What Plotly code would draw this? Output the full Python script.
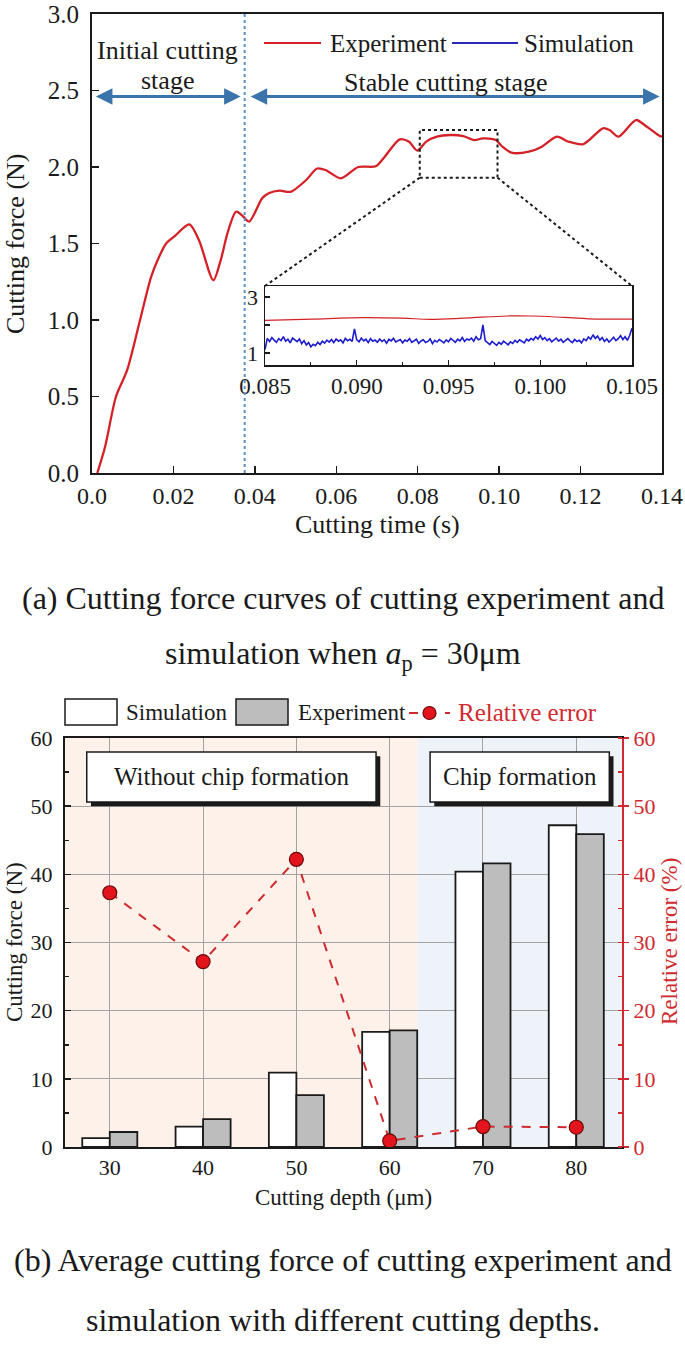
import numpy as np
import plotly.graph_objects as go

W, H = 685, 1354
FONT = "Liberation Serif"
INK = "#1a1a1a"
RED = "#d42127"
BLUE = "#1c1ccf"
ARROW = "#3b74ab"
ERR = "#cf2a2f"

# ---------------- (a) data ----------------
exp_time = [0.0013, 0.0032, 0.0059, 0.0086, 0.0118, 0.0145, 0.0161, 0.0182, 0.0204, 0.0239,
            0.0263, 0.0298, 0.0316, 0.0333, 0.0354, 0.0370, 0.0386, 0.0418, 0.0434, 0.0461,
            0.0488, 0.0526, 0.0553, 0.0574, 0.0611, 0.0654, 0.0697, 0.0719, 0.0756, 0.0778,
            0.0799, 0.0821, 0.0847, 0.0880, 0.0912, 0.0939, 0.0960, 0.0992, 0.1008, 0.1030,
            0.1073, 0.1105, 0.1142, 0.1170, 0.1207, 0.1255, 0.1271, 0.1293, 0.1336, 0.1357,
            0.1395, 0.1400]
exp_force = [0.00, 0.17, 0.50, 0.67, 1.00, 1.28, 1.39, 1.50, 1.55, 1.625,
             1.52, 1.26, 1.39, 1.57, 1.708, 1.68, 1.643, 1.795, 1.828, 1.845,
             1.838, 1.915, 1.99, 1.98, 1.926, 2.00, 2.005, 2.067, 2.181, 2.166,
             2.107, 2.166, 2.198, 2.209, 2.202, 2.176, 2.187, 2.176, 2.133, 2.094,
             2.100, 2.133, 2.198, 2.166, 2.150, 2.253, 2.242, 2.198, 2.307, 2.275,
             2.202, 2.200]

inset_exp_time = [0.085, 0.0876, 0.0904, 0.0925, 0.094, 0.0958, 0.0982, 0.0995, 0.1013, 0.1031, 0.105]
inset_exp_force = [2.16, 2.21, 2.26, 2.24, 2.20, 2.24, 2.32, 2.32, 2.27, 2.21, 2.21]

sim_start, sim_step = 0.085, 0.000125
sim_force = [
    1.12, 1.52, 1.41, 1.55, 1.46, 1.38, 1.51, 1.44, 1.58, 1.42,
    1.49, 1.36, 1.53, 1.45, 1.40, 1.50, 1.33, 1.44, 1.29, 1.37,
    1.22, 1.31, 1.26, 1.38, 1.30, 1.42, 1.35, 1.46, 1.39, 1.48,
    1.37, 1.50, 1.42, 1.47, 1.36, 1.52, 1.44, 1.49, 1.41, 1.86,
    1.47, 1.40, 1.53, 1.43, 1.49, 1.37, 1.51, 1.42, 1.46, 1.38,
    1.50, 1.41, 1.47, 1.35, 1.49, 1.43, 1.52, 1.39, 1.45, 1.48,
    1.36, 1.46, 1.42, 1.51, 1.38, 1.44, 1.49, 1.34, 1.43, 1.47,
    1.37, 1.41, 1.50, 1.33, 1.45, 1.39, 1.48, 1.42, 1.36, 1.47,
    1.40, 1.52, 1.44, 1.38, 1.49, 1.43, 1.55, 1.41, 1.50, 1.46,
    1.53, 1.42, 1.58, 1.47, 1.51, 2.00, 1.44, 1.37, 1.30, 1.41,
    1.33, 1.27, 1.38, 1.31, 1.42, 1.35, 1.29, 1.40, 1.34, 1.45,
    1.38, 1.47, 1.41, 1.36, 1.49, 1.43, 1.52, 1.46, 1.58, 1.50,
    1.62, 1.48, 1.55, 1.44, 1.51, 1.40, 1.47, 1.53, 1.42, 1.49,
    1.38, 1.46, 1.51, 1.43, 1.37, 1.48, 1.41, 1.45, 1.36, 1.50,
    1.44, 1.57, 1.49, 1.65, 1.52, 1.60, 1.46, 1.55, 1.41, 1.50,
    1.39, 1.47, 1.56, 1.44, 1.51, 1.62, 1.48, 1.58, 1.45, 1.63,
    1.88]
sim_time = [sim_start + i * sim_step for i in range(len(sim_force))]

stage_split = 0.0375
zoom_box_t = [0.0805, 0.0996]
zoom_box_f = [1.93, 2.242]
main_xticks = [0.0, 0.02, 0.04, 0.06, 0.08, 0.10, 0.12, 0.14]
main_xtick_labels = ["0.0", "0.02", "0.04", "0.06", "0.08", "0.10", "0.12", "0.14"]
main_yticks = [0.0, 0.5, 1.0, 1.5, 2.0, 2.5, 3.0]

# ---------------- (b) data ----------------
depth = [30, 40, 50, 60, 70, 80]
force_sim = [1.3, 3.0, 10.9, 16.9, 40.4, 47.2]
force_exp = [2.2, 4.1, 7.6, 17.1, 41.6, 45.9]
rel_error = [37.3, 27.2, 42.2, 0.9, 3.0, 2.9]
chip_boundary = 63.0

# ---------------- layout geometry ----------------
def px(x):
    return x / W

def py(y):
    return 1 - y / H

top_x = [px(92), px(662)]
top_y = [py(473), py(14)]
ins_x = [px(265), px(632)]
ins_y = [py(365), py(286)]
bot_x = [px(65), px(622)]
bot_y = [py(1147), py(738)]

main_xr = [0.0, 0.14]
main_yr = [0.0, 3.0]
ins_xr = [0.085, 0.105]
ins_yr = [0.57, 3.39]
bot_xr = [25.2, 84.9]
bot_yr = [0, 60]


def main_to_paper(t, f):
    x = top_x[0] + (t - main_xr[0]) / (main_xr[1] - main_xr[0]) * (top_x[1] - top_x[0])
    y = top_y[0] + (f - main_yr[0]) / (main_yr[1] - main_yr[0]) * (top_y[1] - top_y[0])
    return x, y


fig = go.Figure()

# (a) traces
fig.add_trace(go.Scatter(x=exp_time, y=exp_force, mode="lines",
                         line=dict(color=RED, width=2.3, shape="spline", smoothing=0.8),
                         xaxis="x", yaxis="y", showlegend=False, hoverinfo="skip"))
fig.add_trace(go.Scatter(x=sim_time, y=sim_force, mode="lines",
                         line=dict(color=BLUE, width=1.6),
                         xaxis="x2", yaxis="y2", showlegend=False, hoverinfo="skip"))
fig.add_trace(go.Scatter(x=inset_exp_time, y=inset_exp_force, mode="lines",
                         line=dict(color=RED, width=1.2, shape="spline"),
                         xaxis="x2", yaxis="y2", showlegend=False, hoverinfo="skip"))

# (b) traces
fig.add_trace(go.Bar(x=depth, y=force_sim, width=2.95, offset=-2.95,
                     marker=dict(color="white", line=dict(color=INK, width=1.8)),
                     xaxis="x3", yaxis="y3", showlegend=False, hoverinfo="skip"))
fig.add_trace(go.Bar(x=depth, y=force_exp, width=2.95, offset=0,
                     marker=dict(color="#bdbdbd", line=dict(color=INK, width=1.8)),
                     xaxis="x3", yaxis="y3", showlegend=False, hoverinfo="skip"))
fig.add_trace(go.Scatter(x=depth, y=rel_error, mode="lines+markers",
                         line=dict(color=ERR, width=2, dash="dash"),
                         marker=dict(color="#e3141b", size=14, line=dict(color="#6a0a0a", width=1.2)),
                         xaxis="x3", yaxis="y4", showlegend=False, hoverinfo="skip"))

tf = lambda s, c=INK: dict(family=FONT, size=s, color=c)

fig.update_layout(
    width=W, height=H, margin=dict(l=0, r=0, t=0, b=0, pad=0, autoexpand=False),
    paper_bgcolor="white", plot_bgcolor="white",
    showlegend=False, barmode="overlay",
    xaxis=dict(domain=top_x, range=main_xr, anchor="y", tickmode="array",
               tickvals=main_xticks, ticktext=main_xtick_labels,
               ticks="inside", ticklen=7, tickwidth=1.5, tickcolor=INK,
               showline=True, linecolor=INK, linewidth=2, mirror=True, automargin=False,
               showgrid=False, zeroline=False, tickfont=tf(24)),
    yaxis=dict(domain=top_y, range=main_yr, anchor="x", tickmode="array",
               tickvals=main_yticks, tickformat=".1f",
               ticks="inside", ticklen=7, tickwidth=1.5, tickcolor=INK,
               showline=True, linecolor=INK, linewidth=2, mirror=True, automargin=False,
               showgrid=False, zeroline=False, tickfont=tf(25), ticklabelstandoff=6),
    xaxis2=dict(domain=ins_x, range=ins_xr, anchor="y2", tickmode="linear",
                tick0=0.085, dtick=0.005, tickformat=".3f",
                ticks="inside", ticklen=5, tickwidth=1.2, tickcolor=INK,
                minor=dict(ticks="inside", ticklen=3, dtick=0.0025, tick0=0.085, tickcolor=INK),
                showline=True, linecolor=INK, linewidth=1.5, mirror=True, automargin=False,
                showgrid=False, zeroline=False, tickfont=tf(23)),
    yaxis2=dict(domain=ins_y, range=ins_yr, anchor="x2", tickmode="array",
                tickvals=[1, 2, 3], ticktext=["1", "", "3"],
                ticks="inside", ticklen=5, tickwidth=1.2, tickcolor=INK,
                showline=True, linecolor=INK, linewidth=1.5, mirror=True, automargin=False,
                showgrid=False, zeroline=False, tickfont=tf(22), ticklabelstandoff=1),
    xaxis3=dict(domain=bot_x, range=bot_xr, anchor="y3", tickmode="array",
                tickvals=depth, ticks="", showgrid=True, gridcolor="#a3a3a3", gridwidth=1,
                showline=True, linecolor=INK, linewidth=2, mirror=True, automargin=False,
                zeroline=False, tickfont=tf(22)),
    yaxis3=dict(domain=bot_y, range=bot_yr, anchor="x3", tickmode="linear", tick0=0, dtick=10,
                ticks="inside", ticklen=6, tickwidth=1.5, tickcolor=INK,
                minor=dict(ticks="inside", ticklen=4, dtick=5, tick0=0, tickcolor=INK, showgrid=False),
                showgrid=True, gridcolor="#a3a3a3", gridwidth=1,
                showline=True, linecolor=INK, linewidth=2, mirror=False, automargin=False,
                zeroline=False, tickfont=tf(22), ticklabelstandoff=6),
    yaxis4=dict(range=bot_yr, overlaying="y3", side="right", anchor="x3",
                tickmode="linear", tick0=0, dtick=10,
                ticks="outside", ticklen=5, tickwidth=1.5, tickcolor=ERR,
                minor=dict(ticks="inside", ticklen=4, dtick=5, tick0=0, tickcolor=ERR),
                showgrid=False, showline=True, linecolor=ERR, linewidth=2, automargin=False,
                zeroline=False, tickfont=tf(22, ERR)),
)

shapes = []
# background regions for (b)
shapes.append(dict(type="rect", xref="x3", yref="y3", x0=bot_xr[0], x1=chip_boundary, y0=0, y1=60,
                   fillcolor="#fdf1ea", line=dict(width=0), layer="below"))
shapes.append(dict(type="rect", xref="x3", yref="y3", x0=chip_boundary, x1=bot_xr[1], y0=0, y1=60,
                   fillcolor="#eef3f9", line=dict(width=0), layer="below"))
# stage split dotted line
shapes.append(dict(type="line", xref="x", yref="y", x0=stage_split, x1=stage_split, y0=0, y1=3,
                   line=dict(color="#5a90c6", width=2, dash="dot")))
# zoom box
shapes.append(dict(type="rect", xref="x", yref="y", x0=zoom_box_t[0], x1=zoom_box_t[1],
                   y0=zoom_box_f[0], y1=zoom_box_f[1], line=dict(color=INK, width=2, dash="dot")))
bl = main_to_paper(zoom_box_t[0], zoom_box_f[0])
br = main_to_paper(zoom_box_t[1], zoom_box_f[0])
shapes.append(dict(type="line", xref="paper", yref="paper", x0=bl[0], y0=bl[1], x1=ins_x[0], y1=ins_y[1],
                   line=dict(color=INK, width=2, dash="dot")))
shapes.append(dict(type="line", xref="paper", yref="paper", x0=br[0], y0=br[1], x1=ins_x[1], y1=ins_y[1],
                   line=dict(color=INK, width=2, dash="dot")))
# top legend lines
shapes.append(dict(type="line", xref="paper", yref="paper", x0=px(264), x1=px(321), y0=py(43), y1=py(43),
                   line=dict(color=RED, width=2)))
shapes.append(dict(type="line", xref="paper", yref="paper", x0=px(452), x1=px(518), y0=py(43), y1=py(43),
                   line=dict(color="#2a2ab5", width=2)))
# text boxes in (b) with shadows
for (x0, x1) in [(27.53, 58.54), (64.33, 83.54)]:
    shapes.append(dict(type="rect", xref="x3", yref="y3", x0=x0 + 0.45, x1=x1 + 0.45, y0=50.6 - 0.6, y1=57.94 - 0.6,
                       fillcolor=INK, line=dict(width=0), layer="above"))
    shapes.append(dict(type="rect", xref="x3", yref="y3", x0=x0, x1=x1, y0=50.6, y1=57.94,
                       fillcolor="white", line=dict(color=INK, width=1.5), layer="above"))
# bottom legend swatches
shapes.append(dict(type="rect", xref="paper", yref="paper", x0=px(65), x1=px(117), y0=py(725), y1=py(699),
                   fillcolor="white", line=dict(color=INK, width=1.5)))
shapes.append(dict(type="rect", xref="paper", yref="paper", x0=px(236), x1=px(288), y0=py(725), y1=py(699),
                   fillcolor="#bdbdbd", line=dict(color=INK, width=1.5)))
shapes.append(dict(type="line", xref="paper", yref="paper", x0=px(409), x1=px(450), y0=py(713), y1=py(713),
                   line=dict(color=ERR, width=2, dash="dash")))
shapes.append(dict(type="circle", xref="paper", yref="paper", x0=px(423), x1=px(436), y0=py(719.5), y1=py(706.5),
                   fillcolor="#e3141b", line=dict(color="#6a0a0a", width=1.2)))
fig.update_layout(shapes=shapes)

ann = []

def text(x, y, s, size, color=INK, xanchor="center", angle=0):
    ann.append(dict(xref="paper", yref="paper", x=px(x), y=py(y), text=s, showarrow=False,
                    xanchor=xanchor, yanchor="middle", textangle=angle, font=tf(size, color)))

# arrows in (a)
for (a, b) in [(0.0006, 0.0365), (0.0386, 0.1394)]:
    ann.append(dict(xref="x", yref="y", axref="x", ayref="y", x=b, y=2.46, ax=a, ay=2.46,
                    text="", showarrow=True, arrowhead=2, arrowside="end+start",
                    arrowsize=1.1, arrowwidth=3, arrowcolor=ARROW, standoff=0, startstandoff=0))

text(167, 50, "Initial cutting", 26)
text(167, 80, "stage", 26)
text(446, 83, "Stable cutting stage", 26)
text(328, 43, "Experiment", 25, xanchor="left")
text(522, 43, "Simulation", 25, xanchor="left")
text(377, 524, "Cutting time (s)", 26)
text(16, 244, "Cutting force (N)", 26, angle=-90)
text(342.5, 598, "(a) Cutting force curves of cutting experiment and", 32)
text(342.5, 655, "simulation when <i>a</i><sub>p</sub> = 30μm", 32)

# (b) texts
text(231.5, 777, "Without chip formation", 25)
text(519.5, 777, "Chip formation", 25)
text(124, 712, "Simulation", 23, xanchor="left")
text(296, 712, "Experiment", 23, xanchor="left")
text(456, 712, "Relative error", 25, ERR, xanchor="left")
text(343, 1197, "Cutting depth (μm)", 23)
text(14, 942, "Cutting force (N)", 23, angle=-90)
text(669, 942, "Relative error (%)", 23, ERR, angle=-90)
text(342.5, 1260, "(b) Average cutting force of cutting experiment and", 32)
text(342.5, 1320, "simulation with different cutting depths.", 32)

fig.update_layout(annotations=ann)

fig.write_html("out.html",
               config={"displayModeBar": False, "staticPlot": True},
               post_script="document.body.style.margin='0';document.body.style.padding='0';"
                           "document.body.style.overflow='hidden';")
